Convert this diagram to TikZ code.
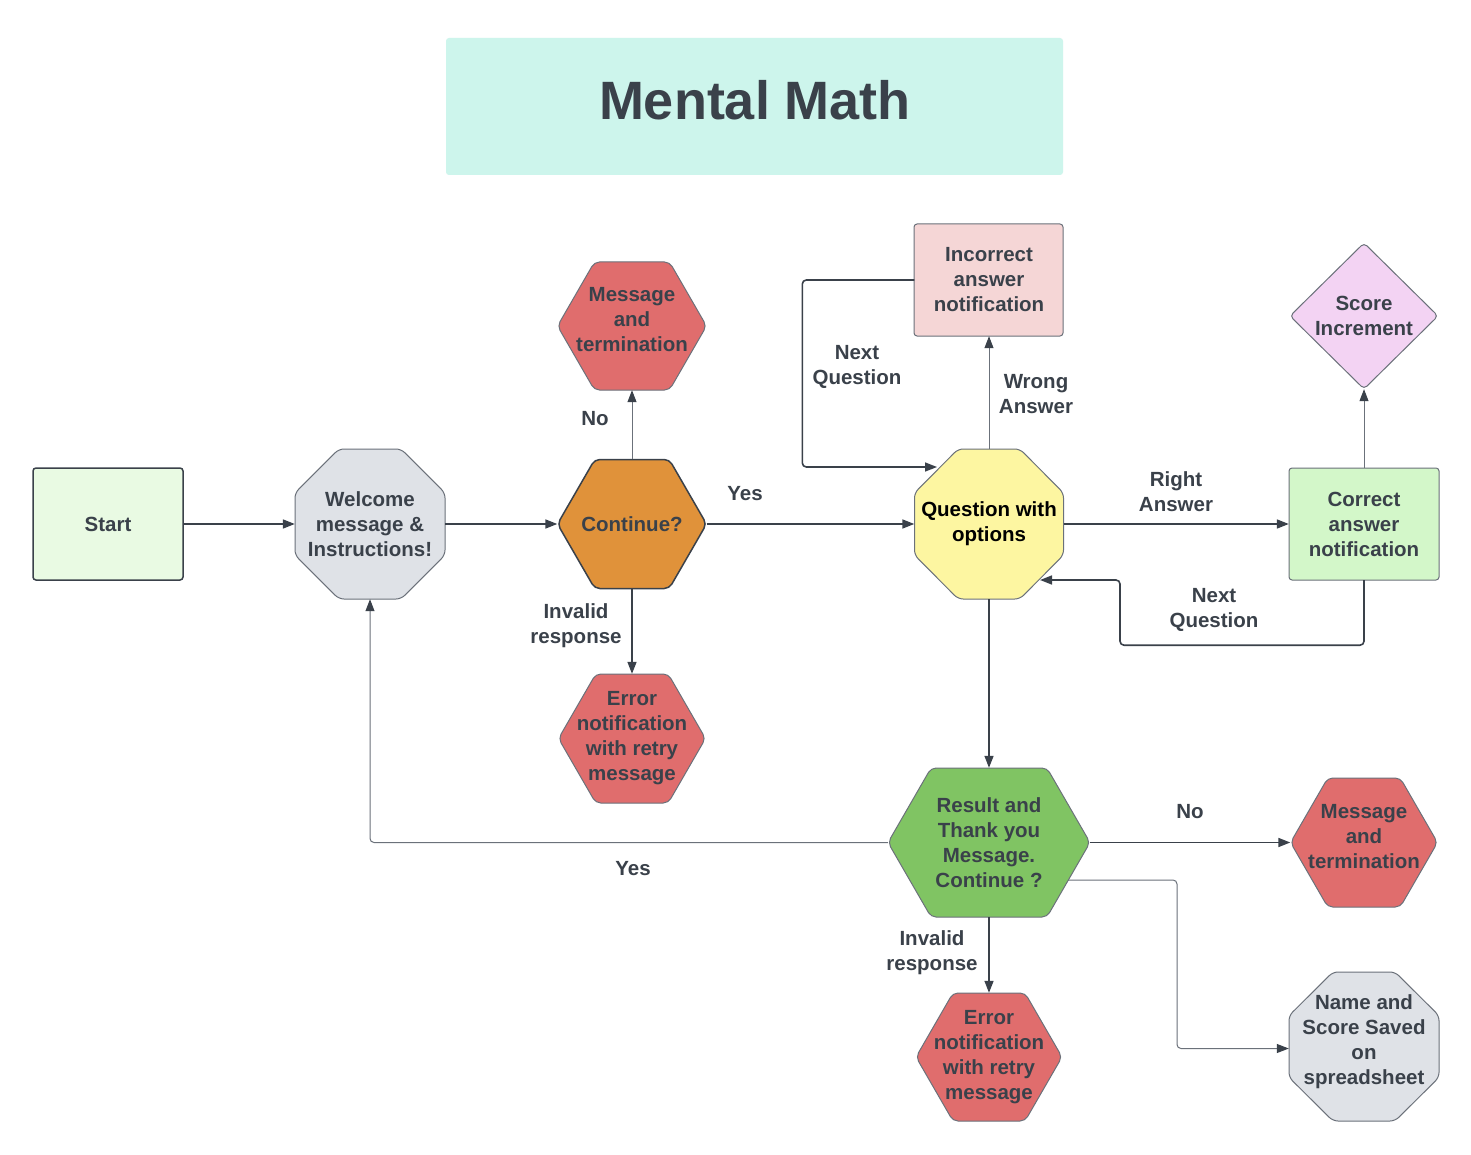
\documentclass[tikz,border=0pt]{standalone}
\usepackage{fontspec}
\setmainfont{Liberation Sans}
\usetikzlibrary{arrows.meta,calc}
\definecolor{txt}{HTML}{3A414A}
\definecolor{lgray}{HTML}{6B717A}
\definecolor{titlefill}{HTML}{CDF5EC}
\definecolor{startfill}{HTML}{E9FAE3}
\definecolor{grayfill}{HTML}{DFE2E7}
\definecolor{orangefill}{HTML}{E0923A}
\definecolor{redfill}{HTML}{E06D6D}
\definecolor{yellowfill}{HTML}{FDF6A1}
\definecolor{pinkfill}{HTML}{F5D6D6}
\definecolor{lavfill}{HTML}{F3D3F3}
\definecolor{lgreenfill}{HTML}{D3F7C9}
\definecolor{greenfill}{HTML}{80C463}
\newcommand{\HexShape}[5]{%
  \path[#5] ({#1-#3/2},#2) -- ({#1-#3/2+0.2887*#4},{#2-#4/2}) -- ({#1+#3/2-0.2887*#4},{#2-#4/2}) -- ({#1+#3/2},#2) -- ({#1+#3/2-0.2887*#4},{#2+#4/2}) -- ({#1-#3/2+0.2887*#4},{#2+#4/2}) -- cycle;}
\newcommand{\OctShape}[5]{%
  \path[#5] ({#1-#3/2},{#2-#4/2+0.2929*#4}) -- ({#1-#3/2+0.2929*#3},{#2-#4/2}) -- ({#1+#3/2-0.2929*#3},{#2-#4/2}) -- ({#1+#3/2},{#2-#4/2+0.2929*#4}) -- ({#1+#3/2},{#2+#4/2-0.2929*#4}) -- ({#1+#3/2-0.2929*#3},{#2+#4/2}) -- ({#1-#3/2+0.2929*#3},{#2+#4/2}) -- ({#1-#3/2},{#2+#4/2-0.2929*#4}) -- cycle;}
\begin{document}
\begin{tikzpicture}[x=1pt,y=-1pt,
  every node/.style={font=\fontsize{20.5}{25}\selectfont\bfseries, text=txt, align=center, inner sep=0pt},
  box/.style={shape=rectangle},
  shp/.style={rounded corners=5pt, line width=1pt, draw=lgray},
  shpdark/.style={rounded corners=5pt, line width=1.5pt, draw=txt},
  elbl/.style={},
  tip/.style={-{Triangle[length=12pt,width=9pt,color=txt]}},
  conn/.style={draw=txt, line width=1.6pt, tip},
  connthin/.style={draw=lgray, line width=1pt, tip},
]
\useasboundingbox (0,0) rectangle (1471,1155);
\fill[white] (0,0) rectangle (1471,1155);

% title
\fill[titlefill, rounded corners=3pt] (446,38) rectangle (1063,175);
\node[font=\fontsize{54}{60}\selectfont\bfseries] (title) at (755,100) {Mental Math};

% shapes
\draw[fill=startfill, draw=txt, line width=1.5pt, rounded corners=3pt] (33,468) rectangle (183,580);
\OctShape{370}{524}{150}{150}{shp, fill=grayfill}
\HexShape{632}{524}{149}{129}{shpdark, fill=orangefill}
\HexShape{632}{326}{149}{128}{shp, fill=redfill}
\HexShape{632}{738.5}{147}{129}{shp, fill=redfill}
\OctShape{989}{524}{149}{150}{shp, fill=yellowfill}
\path[shp, rounded corners=3pt, fill=pinkfill] (914,224) rectangle (1063,336);
\path[shp, rounded corners=4pt, fill=lavfill] (1290,316) -- (1364,243) -- (1438,316) -- (1364,389) -- cycle;
\path[shp, rounded corners=3pt, fill=lgreenfill] (1289,468) rectangle (1439,580);
\HexShape{989}{842.5}{202}{149}{shp, fill=greenfill}
\HexShape{1364}{842.5}{147}{129}{shp, fill=redfill}
\HexShape{989}{1057}{146}{128}{shp, fill=redfill}
\OctShape{1364}{1046.5}{150}{149}{shp, fill=grayfill}

% nodes
\node[box, minimum width=150pt, minimum height=112pt] (st) at (108,524) {Start};
\node[box, minimum width=150pt, minimum height=150pt] (wel) at (370,524) {Welcome\\message \&\\Instructions!};
\node[box, minimum width=149pt, minimum height=129pt] (cont) at (632,524) {Continue?};
\node[box, minimum width=149pt, minimum height=128pt] (mt1) at (632,326) {Message\\and\\termination\\[-12pt]\mbox{}};
\node[box, minimum width=147pt, minimum height=129pt] (err1) at (632,738.5) {Error\\notification\\with retry\\message};
\node[box, minimum width=149pt, minimum height=150pt, text=black] (q) at (989,524) {Question with\\options};
\node[box, minimum width=149pt, minimum height=112pt] (inc) at (989,280) {Incorrect\\answer\\notification};
\node[box, minimum width=148pt, minimum height=146pt] (sc) at (1364,316) {Score\\Increment};
\node[box, minimum width=150pt, minimum height=112pt] (cor) at (1364,524) {Correct\\answer\\notification};
\node[box, minimum width=202pt, minimum height=149pt] (res) at (989,842.5) {Result and\\Thank you\\Message.\\Continue ?};
\node[box, minimum width=147pt, minimum height=129pt] (mt2) at (1364,842.5) {Message\\and\\termination\\[-12pt]\mbox{}};
\node[box, minimum width=146pt, minimum height=128pt] (err2) at (989,1057) {Error\\notification\\with retry\\message};
\node[box, minimum width=150pt, minimum height=149pt] (nm) at (1364,1046.5) {Name and\\Score Saved\\on\\spreadsheet\\[-12pt]\mbox{}};

\coordinate (qin) at (937,467);
\coordinate (qin2) at (1040,580);
\coordinate (resout) at (1068,880);

% connectors
\draw[conn] (st) -- (wel);
\draw[conn] (wel) -- (cont);
\draw[connthin] (cont.north) -- (mt1.south);
\draw[conn] (cont) -- (q);
\draw[conn] (cont.south) -- (err1.north);
\draw[connthin] (q.north) -- (inc.south);
\draw[conn, rounded corners=4pt] (inc.west) -- ++(-112,0) |- (qin);
\draw[conn] (q) -- (cor);
\draw[connthin] (cor.north) -- (sc.south);
\draw[conn, rounded corners=4pt] (cor.south) -- ++(0,65) -- ++(-244,0) |- (qin2);
\draw[conn] (q.south) -- (res.north);
\draw[connthin, rounded corners=4pt] (res.west) -| (wel.south);
\draw[conn] (res.east) -- (mt2.west);
\draw[conn] (res.south) -- (err2.north);
\draw[connthin, rounded corners=4pt] (resout) -- ++(109,0) |- ($(nm.west)+(0,2)$);

% labels
\node[elbl] (lno1) at (595,419) {No};
\node[elbl] (lyes1) at (745,494) {Yes};
\node[elbl] (linv1) at (576,626) {Invalid\\response};
\node[elbl] (lnq1) at (857,367) {Next\\Question};
\node[elbl] (lwa) at (1036,394) {Wrong\\Answer};
\node[elbl] (lra) at (1176,492) {Right\\Answer};
\node[elbl] (lnq2) at (1214,610) {Next\\Question};
\node[elbl] (lyes2) at (633,869) {Yes};
\node[elbl] (lno2) at (1190,812) {No};
\node[elbl] (linv2) at (932,953) {Invalid\\response};
\end{tikzpicture}
\end{document}
